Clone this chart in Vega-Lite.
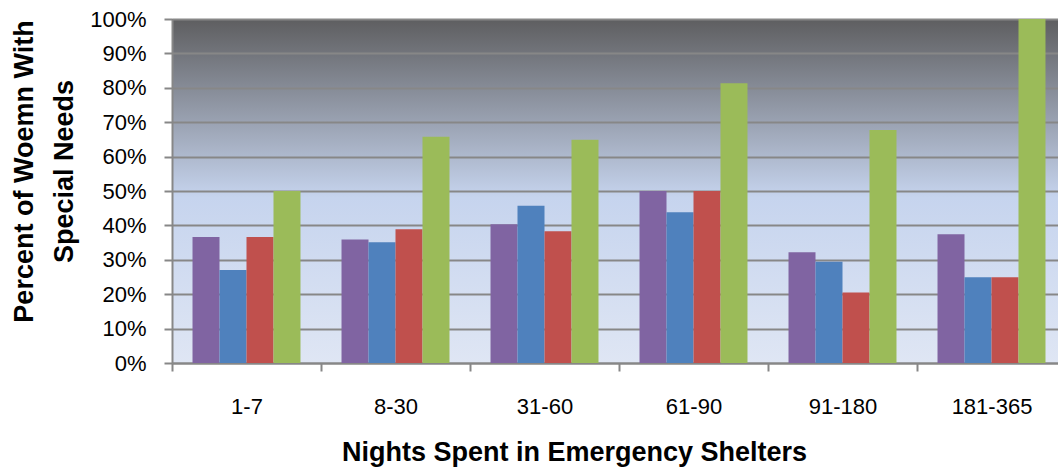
{
  "$schema": "https://vega.github.io/schema/vega-lite/v6.json",
  "width": 886,
  "height": 344,
  "autosize": {"type": "none"},
  "padding": {"left": 172, "top": 19, "right": 0, "bottom": 104},
  "background": "white",
  "data": {
    "values": [
      {"nights": "1-7", "series": "Series 1", "pct": 0.366},
      {"nights": "1-7", "series": "Series 2", "pct": 0.270},
      {"nights": "1-7", "series": "Series 3", "pct": 0.366},
      {"nights": "1-7", "series": "Series 4", "pct": 0.500},
      {"nights": "8-30", "series": "Series 1", "pct": 0.359},
      {"nights": "8-30", "series": "Series 2", "pct": 0.351},
      {"nights": "8-30", "series": "Series 3", "pct": 0.389},
      {"nights": "8-30", "series": "Series 4", "pct": 0.658},
      {"nights": "31-60", "series": "Series 1", "pct": 0.403},
      {"nights": "31-60", "series": "Series 2", "pct": 0.457},
      {"nights": "31-60", "series": "Series 3", "pct": 0.383},
      {"nights": "31-60", "series": "Series 4", "pct": 0.649},
      {"nights": "61-90", "series": "Series 1", "pct": 0.500},
      {"nights": "61-90", "series": "Series 2", "pct": 0.438},
      {"nights": "61-90", "series": "Series 3", "pct": 0.500},
      {"nights": "61-90", "series": "Series 4", "pct": 0.813},
      {"nights": "91-180", "series": "Series 1", "pct": 0.322},
      {"nights": "91-180", "series": "Series 2", "pct": 0.294},
      {"nights": "91-180", "series": "Series 3", "pct": 0.205},
      {"nights": "91-180", "series": "Series 4", "pct": 0.677},
      {"nights": "181-365", "series": "Series 1", "pct": 0.374},
      {"nights": "181-365", "series": "Series 2", "pct": 0.249},
      {"nights": "181-365", "series": "Series 3", "pct": 0.249},
      {"nights": "181-365", "series": "Series 4", "pct": 1.0}
    ]
  },
  "mark": {"type": "bar"},
  "encoding": {
    "x": {
      "field": "nights",
      "type": "nominal",
      "sort": ["1-7", "8-30", "31-60", "61-90", "91-180", "181-365"],
      "scale": {"range": [0, 894], "paddingInner": 0, "paddingOuter": 0},
      "axis": {
        "title": "Nights Spent in Emergency Shelters",
        "labelAngle": 0,
        "labelFont": "Liberation Sans",
        "labelFontSize": 22,
        "labelColor": "black",
        "labelPadding": 25,
        "tickBand": "extent",
        "tickSize": 8,
        "tickWidth": 2,
        "tickColor": "#878787",
        "domainColor": "#878787",
        "domainWidth": 2,
        "grid": false,
        "titleFont": "Liberation Sans",
        "titleFontSize": 27,
        "titleFontWeight": "bold",
        "titleColor": "black",
        "titleBaseline": "alphabetic",
        "titleAnchor": "middle",
        "titleAlign": "center",
        "titleX": 402,
        "titleY": 97
      }
    },
    "xOffset": {
      "field": "series",
      "type": "nominal",
      "scale": {"paddingInner": 0, "paddingOuter": 0.76}
    },
    "y": {
      "field": "pct",
      "type": "quantitative",
      "scale": {"domain": [0, 1], "nice": false},
      "axis": {
        "title": ["Percent of Woemn With", "Special Needs"],
        "values": [0, 0.1, 0.2, 0.3, 0.4, 0.5, 0.6, 0.7, 0.8, 0.9, 1.0],
        "format": ".0%",
        "labelFont": "Liberation Sans",
        "labelFontSize": 22,
        "labelColor": "black",
        "labelPadding": 18,
        "tickSize": 8,
        "tickWidth": 2,
        "tickColor": "#878787",
        "domainColor": "#878787",
        "domainWidth": 2,
        "grid": true,
        "gridColor": "#878787",
        "gridWidth": 2,
        "titleFont": "Liberation Sans",
        "titleFontSize": 27,
        "titleFontWeight": "bold",
        "titleColor": "black",
        "titleLineHeight": 40,
        "titleBaseline": "alphabetic",
        "titleAngle": -90,
        "titleAlign": "center",
        "titleX": -140,
        "titleY": 152
      }
    },
    "color": {
      "field": "series",
      "type": "nominal",
      "scale": {"range": ["#8064a2", "#4f81bd", "#c0504d", "#9bbb59"]},
      "legend": null
    }
  },
  "config": {
    "view": {
      "stroke": null,
      "fill": {
        "gradient": "linear",
        "x1": 0, "y1": 1, "x2": 0, "y2": 0,
        "stops": [
          {"offset": 0, "color": "#dfe6f4"},
          {"offset": 0.48, "color": "#c6d4ee"},
          {"offset": 1, "color": "#5e5e60"}
        ]
      }
    }
  }
}
